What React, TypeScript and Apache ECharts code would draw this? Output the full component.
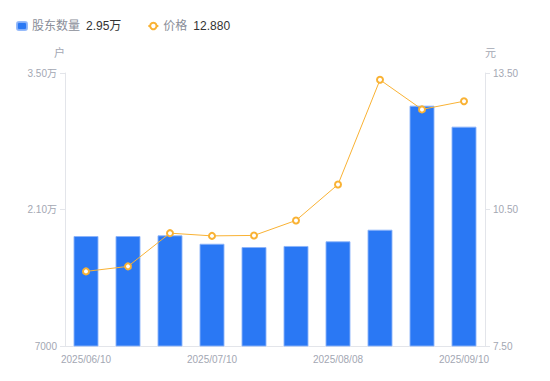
import React, { useEffect, useRef } from "react";
import * as echarts from "echarts";

const categories = [
  "2025/06/10", "2025/06/20", "2025/06/30", "2025/07/10", "2025/07/18",
  "2025/07/31", "2025/08/08", "2025/08/20", "2025/08/29", "2025/09/10",
];
const holders = [18280, 18280, 18350, 17490, 17150, 17260, 17740, 18930, 31650, 29500];
const prices = [9.14, 9.25, 9.98, 9.92, 9.93, 10.26, 11.05, 13.35, 12.7, 12.88];
const leftTicks = { min: 7000, max: 35000, interval: 14000 };
const rightTicks = { min: 7.5, max: 13.5, interval: 3 };

const FONT = "Arial, 'Liberation Sans', 'Noto Sans CJK SC', sans-serif";
const BAR = "#2a78f4";
const LINE = "#f9b234";
const AXIS_TEXT = "#a3a7b3";
const AXIS_LINE = "#e3e5ea";

function fmtHolders(v: number) {
  if (v >= 10000) return (v / 10000).toFixed(2) + "万";
  return String(v);
}

export default function App() {
  const ref = useRef<HTMLDivElement>(null);
  useEffect(() => {
    if (!ref.current) return;
    const chart = echarts.init(ref.current, null, { renderer: "svg" });
    const lastH = holders[holders.length - 1];
    const lastP = prices[prices.length - 1];
    chart.setOption({
      animation: false,
      textStyle: { fontFamily: FONT },
      legend: {
        left: 11,
        top: 15,
        itemWidth: 10,
        itemHeight: 8,
        itemGap: 26,
        data: [
          { name: "股东数量", icon: "roundRect" },
          { name: "价格" },
        ],
        formatter: (name: string) =>
          name === "股东数量"
            ? `{a|${name}}{b|${fmtHolders(lastH)}}`
            : `{a|${name}}{b|${lastP.toFixed(3)}}`,
        textStyle: {
          fontFamily: FONT,
          fontSize: 12,
          rich: {
            a: { color: "#8a8e99", fontSize: 12, fontFamily: FONT },
            b: { color: "#333", fontSize: 12, fontFamily: FONT, padding: [0, 0, 0, 6] },
          },
        },
      },
      grid: { left: 65, right: 65, top: 73, bottom: 35 },
      xAxis: {
        type: "category",
        data: categories,
        axisLine: { lineStyle: { color: AXIS_LINE } },
        axisTick: { show: false },
        axisLabel: { interval: 2, color: AXIS_TEXT, fontSize: 10, fontFamily: FONT, margin: 8 },
      },
      yAxis: [
        {
          type: "value",
          name: "户",
          min: leftTicks.min,
          max: leftTicks.max,
          interval: leftTicks.interval,
          nameGap: 15,
          nameTextStyle: { color: AXIS_TEXT, fontSize: 11, align: "right", fontFamily: FONT },
          axisLine: { show: true, lineStyle: { color: AXIS_LINE } },
          axisTick: { show: true, length: 5, lineStyle: { color: AXIS_LINE } },
          splitLine: { show: false },
          axisLabel: { color: AXIS_TEXT, fontSize: 10, fontFamily: FONT, formatter: fmtHolders },
        },
        {
          type: "value",
          name: "元",
          min: rightTicks.min,
          max: rightTicks.max,
          interval: rightTicks.interval,
          nameGap: 15,
          nameTextStyle: { color: AXIS_TEXT, fontSize: 11, align: "left", fontFamily: FONT },
          axisLine: { show: true, lineStyle: { color: AXIS_LINE } },
          axisTick: { show: true, length: 5, lineStyle: { color: AXIS_LINE } },
          splitLine: { show: false },
          axisLabel: {
            color: AXIS_TEXT,
            fontSize: 10,
            fontFamily: FONT,
            formatter: (v: number) => v.toFixed(2),
          },
        },
      ],
      series: [
        {
          name: "股东数量",
          type: "bar",
          data: holders,
          barWidth: 25,
          itemStyle: { color: BAR, borderColor: "rgba(140,180,250,0.9)", borderWidth: 1 },
        },
        {
          name: "价格",
          type: "line",
          yAxisIndex: 1,
          data: prices,
          symbol: "emptyCircle",
          symbolSize: 6,
          lineStyle: { color: LINE, width: 1 },
          itemStyle: { color: LINE, borderWidth: 2 },
        },
      ],
    });
    return () => chart.dispose();
  }, []);
  return (
    <div
      ref={ref}
      style={{ position: "fixed", left: 0, top: 0, width: 550, height: 381, background: "#fff" }}
    />
  );
}
